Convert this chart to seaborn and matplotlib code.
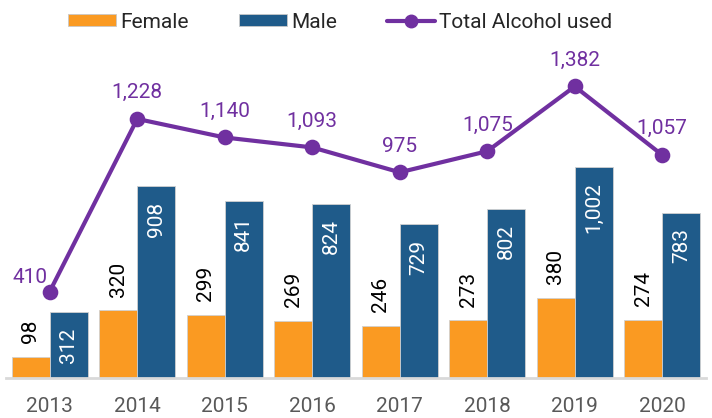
import pandas as pd
import matplotlib
matplotlib.use("Agg")
import matplotlib.pyplot as plt
from matplotlib.patches import Patch
from matplotlib.lines import Line2D
import seaborn as sns

years = ['2013', '2014', '2015', '2016', '2017', '2018', '2019', '2020']
female = [98, 320, 299, 269, 246, 273, 380, 274]
male = [312, 908, 841, 824, 729, 802, 1002, 783]
total = [410, 1228, 1140, 1093, 975, 1075, 1382, 1057]

c_female = '#FA9A22'
c_male = '#1F5B8A'
c_total = '#7030A0'

sns.set_theme(style='white')
plt.rcParams['font.family'] = ['Roboto', 'DejaVu Sans']

df = pd.DataFrame({
    'year': years * 2,
    'sex': ['Female'] * len(years) + ['Male'] * len(years),
    'count': female + male,
})

fig = plt.figure(figsize=(7.12, 4.18), dpi=100)
ax = fig.add_axes([6 / 712, 40 / 418, 700 / 712, 327 / 418])

sns.barplot(data=df, x='year', y='count', hue='sex', order=years,
            hue_order=['Female', 'Male'],
            palette={'Female': c_female, 'Male': c_male},
            width=0.87, saturation=1, edgecolor='#d0d0d0', linewidth=0.6,
            legend=False, ax=ax)

sns.pointplot(x=years, y=total, order=years, color=c_total, errorbar=None,
              markersize=9, linewidth=3, ax=ax)

# labels on the bars
fem_cont, male_cont = ax.containers[0], ax.containers[1]
ax.bar_label(fem_cont, labels=[f'{v:,}' for v in female], padding=10,
             rotation=90, fontsize=15, color='black')
mlabels = ax.bar_label(male_cont, labels=[f'{v:,}' for v in male], padding=-11,
                       rotation=90, fontsize=15, color='white')
for t in mlabels:
    t.set_va('top')

# labels on the line
line = ax.lines[-1]
xs, ys = line.get_data()
for i, (x, y) in enumerate(zip(xs, ys)):
    if i == 0:
        ax.annotate(f'{total[i]:,}', (x, y), xytext=(-1.5, 10),
                    textcoords='offset points', ha='right', va='center',
                    fontsize=15, color=c_total)
    else:
        ax.annotate(f'{total[i]:,}', (x, y), xytext=(0, 12),
                    textcoords='offset points', ha='center', va='bottom',
                    fontsize=15, color=c_total)

ax.set_ylim(0, 1550)
ax.set_xlim(-0.5, len(years) - 0.5)
ax.set_xlabel('')
ax.set_ylabel('')
ax.set_yticks([])
for s in ['top', 'right', 'left']:
    ax.spines[s].set_visible(False)
ax.spines['bottom'].set_color('#d9d9d9')
ax.spines['bottom'].set_linewidth(2)
ax.tick_params(axis='x', length=0, pad=14, labelsize=15, labelcolor='#595959')

handles = [
    Patch(facecolor=c_female, edgecolor='#c8c8c8', linewidth=0.6),
    Patch(facecolor=c_male, edgecolor='#c8c8c8', linewidth=0.6),
    Line2D([], [], color=c_total, lw=3, marker='o', markersize=9),
]
fig.legend(handles, ['Female', 'Male', 'Total Alcohol used'], loc='center',
           bbox_to_anchor=(340 / 712, 1 - 22 / 418), ncol=3, frameon=False,
           fontsize=15, handlelength=2.3, handleheight=0.55, handletextpad=0.2,
           columnspacing=2.4)

fig.savefig('out.png', dpi=100)
